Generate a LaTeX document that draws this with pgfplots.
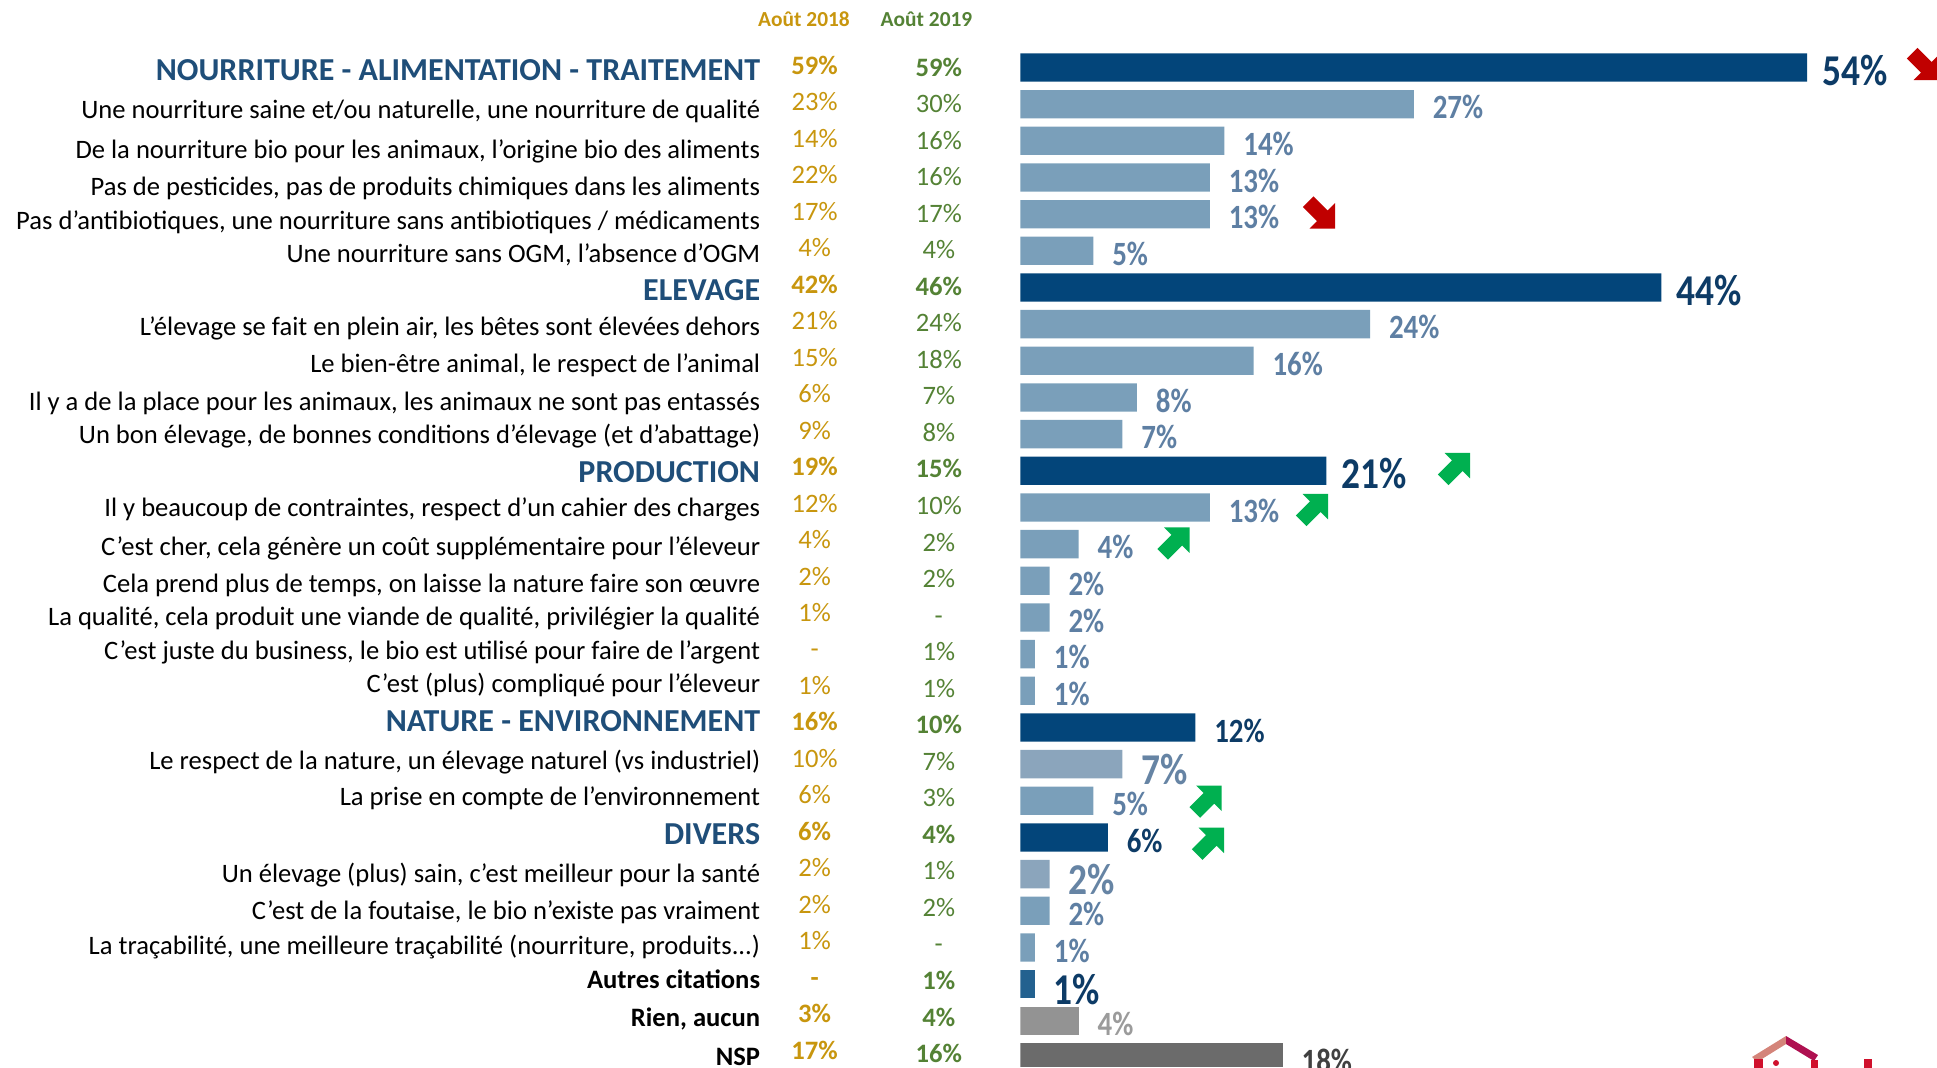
\documentclass[border=0pt]{standalone}
\usepackage{fontspec}
\setmainfont{Carlito}
\usepackage{graphicx}
\usepackage{pgfplots}
\pgfplotsset{compat=1.18}
\definecolor{darkbar}{HTML}{03457A}
\definecolor{lightbar}{HTML}{7A9FBA}
\definecolor{greybluebar}{HTML}{8BA5BC}
\definecolor{autresbar}{HTML}{23618F}
\definecolor{rienbar}{HTML}{939393}
\definecolor{nspbar}{HTML}{6B6B6B}
\definecolor{hdrblue}{HTML}{1F4E79}
\definecolor{navylbl}{HTML}{0D3B66}
\definecolor{lightlbl}{HTML}{5E7FA3}
\definecolor{greybluelbl}{HTML}{6684A4}
\definecolor{rienlbl}{HTML}{9B9B9B}
\definecolor{nsplbl}{HTML}{404040}
\definecolor{gold}{HTML}{C8960E}
\definecolor{green19}{HTML}{548235}
\definecolor{arrred}{HTML}{C00000}
\definecolor{arrgreen}{HTML}{00B050}
\definecolor{logosalmon}{HTML}{D4847A}
\definecolor{logocrim}{HTML}{AE1050}
\definecolor{logored}{HTML}{D0102C}

\tikzset{
  lblH/.style={font=\fontsize{16}{18}\selectfont\bfseries, text=hdrblue, inner sep=0pt},
  lblI/.style={font=\fontsize{13.3}{15}\selectfont, text=black, inner sep=0pt},
  lblF/.style={font=\fontsize{13.3}{15}\selectfont\bfseries, text=black, inner sep=0pt},
  v18H/.style={font=\fontsize{13.3}{15}\selectfont\bfseries, text=gold, inner sep=0pt},
  v18I/.style={font=\fontsize{13.3}{15}\selectfont, text=gold, inner sep=0pt},
  v18F/.style={font=\fontsize{13.3}{15}\selectfont\bfseries, text=gold, inner sep=0pt},
  v19H/.style={font=\fontsize{13.3}{15}\selectfont\bfseries, text=green19, inner sep=0pt},
  v19I/.style={font=\fontsize{13.3}{15}\selectfont, text=green19, inner sep=0pt},
  v19F/.style={font=\fontsize{13.3}{15}\selectfont\bfseries, text=green19, inner sep=0pt},
}

% #1 row, #2 style, #3 label baseline (px), #4 label, #5 2018, #6 2019
\newcommand\rowtxt[6]{%
  \pgfmathsetmacro\ya{74.3+(#1-1)*36.48}%
  \pgfmathsetmacro\yb{76+(#1-1)*36.54}%
  \node[lbl#2, anchor=base east] at (760.5,#3) {#4};
  \node[v18#2, anchor=base] at (814.6,\ya) {#5};
  \node[v19#2, anchor=base] at (938.8,\yb) {#6};
}
\newcommand\arrup[2]{%
  \fill[arrgreen, shift={(#1,#2)}, rotate=45]
    (22.7,0) -- (4.7,18) -- (4.7,7.5) -- (-15.3,7.5) -- (-15.3,-7.5) -- (4.7,-7.5) -- (4.7,-18) -- cycle;}
\newcommand\arrdown[2]{%
  \fill[arrred, shift={(#1,#2)}, rotate=-45]
    (22.7,0) -- (4.7,18) -- (4.7,7.5) -- (-15.3,7.5) -- (-15.3,-7.5) -- (4.7,-7.5) -- (4.7,-18) -- cycle;}

\begin{document}
\begin{tikzpicture}
\useasboundingbox (0,0) rectangle (968.5pt,-533.5pt);

\begin{axis}[
  at={(510.2pt,-24.58pt)}, anchor=north west,
  scale only axis, width=437.1pt, height=508.9pt,
  xmin=0, xmax=60, ymin=-28.26, ymax=-0.5,
  hide axis,
  xbar, bar width=0.772,
  /pgf/number format/assume math mode=true,
  nodes near coords={\scalebox{0.85}[1]{\pgfmathprintnumber{\pgfplotspointmeta}\%}},
]
% A: dark bars, big labels
\addplot[draw=none, fill=darkbar, bar shift=0pt,
  every node near coord/.append style={anchor=west, inner sep=0pt, xshift=7.5pt, yshift=-1.5pt,
    font=\fontsize{22}{22}\selectfont\bfseries, text=navylbl}]
  coordinates {(54,-1) (44,-7) (21,-12)};
% B: dark bars, normal labels
\addplot[draw=none, fill=darkbar, bar shift=0pt,
  every node near coord/.append style={anchor=west, inner sep=0pt, xshift=9.3pt, yshift=-1.5pt,
    font=\fontsize{17}{17}\selectfont\bfseries, text=navylbl}]
  coordinates {(12,-19) (6,-22)};
% C: light bars
\addplot[draw=none, fill=lightbar, bar shift=0pt,
  every node near coord/.append style={anchor=west, inner sep=0pt, xshift=9.3pt, yshift=-1.5pt,
    font=\fontsize{17}{17}\selectfont\bfseries, text=lightlbl}]
  coordinates {(27,-2) (14,-3) (13,-4) (13,-5) (5,-6) (24,-8) (16,-9) (8,-10) (7,-11)
               (13,-13) (4,-14) (2,-15) (2,-16) (1,-17) (1,-18) (5,-21) (2,-24) (1,-25)};
% D: grey-blue bars, big labels
\addplot[draw=none, fill=greybluebar, bar shift=0pt,
  every node near coord/.append style={anchor=west, inner sep=0pt, xshift=9.3pt, yshift=-2.5pt,
    font=\fontsize{22}{22}\selectfont\bfseries, text=greybluelbl}]
  coordinates {(7,-20) (2,-23)};
% E: autres citations
\addplot[draw=none, fill=autresbar, bar shift=0pt,
  every node near coord/.append style={anchor=west, inner sep=0pt, xshift=9.3pt, yshift=-2.5pt,
    font=\fontsize{22}{22}\selectfont\bfseries, text=navylbl}]
  coordinates {(1,-26)};
% F: rien
\addplot[draw=none, fill=rienbar, bar shift=0pt,
  every node near coord/.append style={anchor=west, inner sep=0pt, xshift=9.3pt, yshift=-1.5pt,
    font=\fontsize{17}{17}\selectfont\bfseries, text=rienlbl}]
  coordinates {(4,-27)};
% G: NSP
\addplot[draw=none, fill=nspbar, bar shift=0pt,
  every node near coord/.append style={anchor=west, inner sep=0pt, xshift=9.3pt, yshift=-1.5pt,
    font=\fontsize{17}{17}\selectfont\bfseries, text=nsplbl}]
  coordinates {(18,-28)};
\end{axis}

\begin{scope}[x=0.5pt, y=-0.5pt]
\node[font=\fontsize{10.7}{12}\selectfont\bfseries, text=gold, anchor=base, inner sep=0pt] at (804,26) {Août 2018};
\node[font=\fontsize{10.7}{12}\selectfont\bfseries, text=green19, anchor=base, inner sep=0pt] at (926.5,26) {Août 2019};

\rowtxt{1}{H}{80}{NOURRITURE - ALIMENTATION - TRAITEMENT}{59\%}{59\%}
\rowtxt{2}{I}{118.3}{Une nourriture saine et/ou naturelle, une nourriture de qualité}{23\%}{30\%}
\rowtxt{3}{I}{158.3}{De la nourriture bio pour les animaux, l’origine bio des aliments}{14\%}{16\%}
\rowtxt{4}{I}{195.7}{Pas de pesticides, pas de produits chimiques dans les aliments}{22\%}{16\%}
\rowtxt{5}{I}{229}{Pas d’antibiotiques, une nourriture sans antibiotiques / médicaments}{17\%}{17\%}
\rowtxt{6}{I}{262.3}{Une nourriture sans OGM, l’absence d’OGM}{4\%}{4\%}
\rowtxt{7}{H}{300.7}{ELEVAGE}{42\%}{46\%}
\rowtxt{8}{I}{335.7}{L’élevage se fait en plein air, les bêtes sont élevées dehors}{21\%}{24\%}
\rowtxt{9}{I}{372.7}{Le bien-être animal, le respect de l’animal}{15\%}{18\%}
\rowtxt{10}{I}{410}{Il y a de la place pour les animaux, les animaux ne sont pas entassés}{6\%}{7\%}
\rowtxt{11}{I}{443.3}{Un bon élevage, de bonnes conditions d’élevage (et d’abattage)}{9\%}{8\%}
\rowtxt{12}{H}{482.7}{PRODUCTION}{19\%}{15\%}
\rowtxt{13}{I}{516.7}{Il y beaucoup de contraintes, respect d’un cahier des charges}{12\%}{10\%}
\rowtxt{14}{I}{555}{C’est cher, cela génère un coût supplémentaire pour l’éleveur}{4\%}{2\%}
\rowtxt{15}{I}{592.1}{Cela prend plus de temps, on laisse la nature faire son œuvre}{2\%}{2\%}
\rowtxt{16}{I}{625.7}{La qualité, cela produit une viande de qualité, privilégier la qualité}{1\%}{-}
\rowtxt{17}{I}{659.3}{C’est juste du business, le bio est utilisé pour faire de l’argent}{-}{1\%}
\rowtxt{18}{I}{692.9}{C’est (plus) compliqué pour l’éleveur}{1\%}{1\%}
\rowtxt{19}{H}{731.6}{NATURE - ENVIRONNEMENT}{16\%}{10\%}
\rowtxt{20}{I}{769.6}{Le respect de la nature, un élevage naturel (vs industriel)}{10\%}{7\%}
\rowtxt{21}{I}{805.5}{La prise en compte de l’environnement}{6\%}{3\%}
\rowtxt{22}{H}{844.2}{DIVERS}{6\%}{4\%}
\rowtxt{23}{I}{882.8}{Un élevage (plus) sain, c’est meilleur pour la santé}{2\%}{1\%}
\rowtxt{24}{I}{919.8}{C’est de la foutaise, le bio n’existe pas vraiment}{2\%}{2\%}
\rowtxt{25}{I}{954.1}{La traçabilité, une meilleure traçabilité (nourriture, produits...)}{1\%}{-}
\rowtxt{26}{F}{988.7}{Autres citations}{-}{1\%}
\rowtxt{27}{F}{1026.7}{Rien, aucun}{3\%}{4\%}
\rowtxt{28}{F}{1065}{NSP}{17\%}{16\%}

% trend arrows
\arrdown{1923}{64}
\arrdown{1319}{212.5}
\arrup{1454}{469}
\arrup{1312}{510}
\arrup{1173.5}{543.5}
\arrup{1205.6}{801.7}
\arrup{1208}{843.7}

% logo fragment
\fill[logosalmon] (1752,1057) -- (1786,1036) -- (1786,1044) -- (1757,1062) -- cycle;
\fill[logocrim] (1786,1036) -- (1818,1055) -- (1814,1061) -- (1786,1044) -- cycle;
\fill[logored] (1754,1059) rectangle (1763,1068);
\fill[logored] (1776,1063) circle (3);
\fill[logored] (1811,1060) rectangle (1818,1068);
\fill[logored] (1864,1059) rectangle (1872,1068);
\end{scope}
\end{tikzpicture}
\end{document}
